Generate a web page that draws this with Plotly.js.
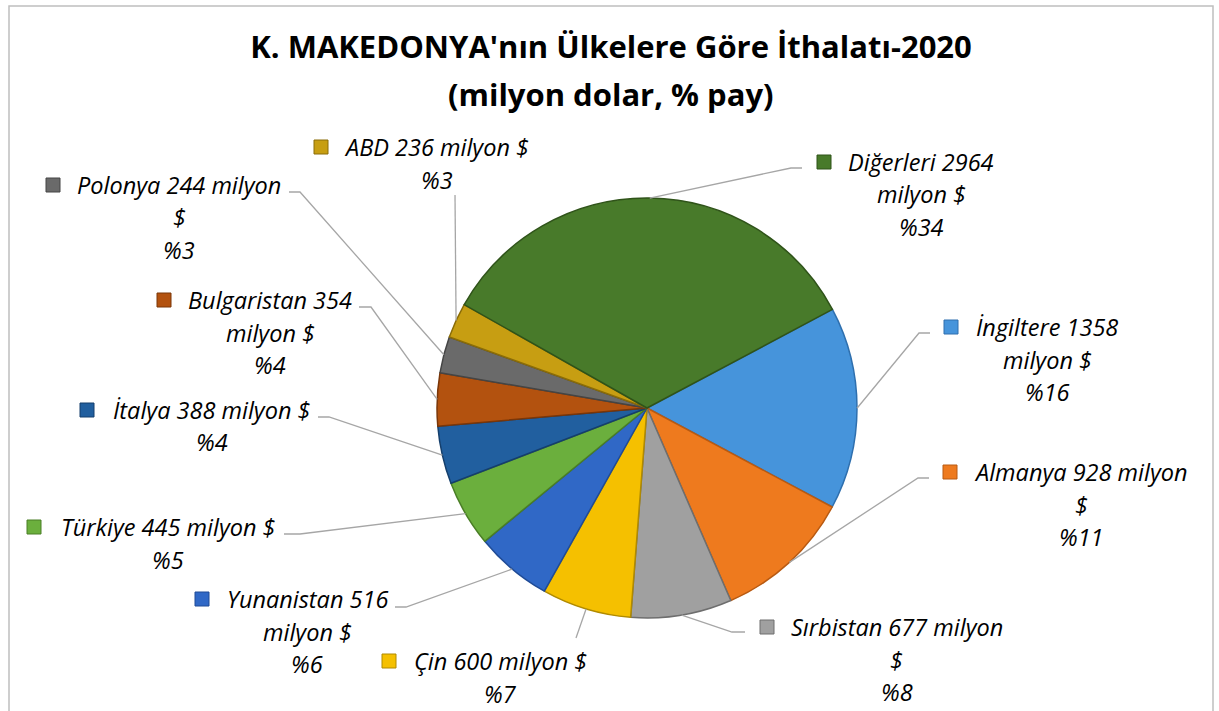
<!DOCTYPE html>
<html><head><meta charset="utf-8">
<script src="https://cdn.plot.ly/plotly-3.0.1.min.js"></script>
<style>html,body{margin:0;padding:0;background:#fff;}#chart{width:1219px;height:711px;}</style>
</head><body><div id="chart"></div>
<script>
// ---- data ----
const countries = ["İngiltere","Almanya","Sırbistan","Çin","Yunanistan","Türkiye","İtalya","Bulgaristan","Polonya","ABD","Diğerleri"];
const values = [1358, 928, 677, 600, 516, 445, 388, 354, 244, 236, 2964];
const unitText = "milyon $";
const titleLines = ["K. MAKEDONYA'nın Ülkelere Göre İthalatı-2020", "(milyon dolar, % pay)"];

// ---- styles ----
const colors = ["#4694DB","#EE7A1E","#A0A0A0","#F5C000","#3068C6","#6BAF3D","#215F9F","#B3520F","#6A6A6A","#C79E12","#487A2A"];
const edgeColors = ["#2E6FAE","#B85A12","#6E6E6E","#B08A00","#1F4B96","#4A7E26","#153F6C","#7A3608","#454545","#8A6C08","#2F5319"];

const W = 1219, H = 711;
const CX = 647, CY = 408, R = 210, ROT = 62;
const LS = 32.5;
const labelLayout = [
  {cx:1047, y:327, w1:2, sq:951, lead:[[930,333],[919,333]]},
  {cx:1081, y:472, w1:3, sq:950, lead:[[929,478],[918,478]]},
  {cx:897,  y:627, w1:3, sq:767, lead:[[745,632],[732,632]]},
  {cx:500,  y:661, w1:4, sq:389, lead:[[576,638]]},
  {cx:307,  y:599, w1:2, sq:202, lead:[[395,607],[406,607]]},
  {cx:168,  y:527, w1:4, sq:34,  lead:[[284,534],[300,534]]},
  {cx:212,  y:410, w1:4, sq:87,  lead:[[318,417],[329,417]]},
  {cx:270,  y:300, w1:2, sq:164, lead:[[359,307],[371,307]]},
  {cx:179,  y:185, w1:3, sq:53,  lead:[[289,192],[300,192]]},
  {cx:437,  y:147, w1:4, sq:321, lead:[[455,195]]},
  {cx:921,  y:162, w1:2, sq:824, lead:[[802,168],[791,168]]}
];

const FONT = "'Open Sans', sans-serif";
const px = x => x / W;
const py = y => 1 - y / H;

const total = values.reduce((a,b)=>a+b,0);
const annotations = [];
const shapes = [];

let cum = 0;
values.forEach((v,i)=>{
  const mid = (cum + v/2) / total;
  cum += v;
  const ang = (ROT + 360*mid) * Math.PI/180;
  const tx = CX + R*Math.sin(ang), ty = CY - R*Math.cos(ang);
  const L = labelLayout[i];
  const pct = Math.round(v/total*100);
  const words = (countries[i] + " " + v + " " + unitText).split(" ");
  const lines = [words.slice(0,L.w1).join(" ")];
  if (words.length > L.w1) lines.push(words.slice(L.w1).join(" "));
  lines.push("%" + pct);
  lines.forEach((t,k)=>{
    annotations.push({
      x: px(L.cx), y: py(L.y + k*LS), xref:"paper", yref:"paper",
      xanchor:"center", yanchor:"middle", showarrow:false,
      text: "<i>" + t + "</i>",
      font:{family:FONT, size:23.5, color:"#000"}
    });
  });
  // legend key square
  shapes.push({type:"rect", xref:"paper", yref:"paper",
    x0:px(L.sq-7), x1:px(L.sq+7), y0:py(L.y+7), y1:py(L.y-7),
    fillcolor: colors[i], line:{color: edgeColors[i], width:1}});
  // leader line
  let path = "M " + L.lead.map(p=>px(p[0])+","+py(p[1])).join(" L ") + " L " + px(tx)+","+py(ty);
  shapes.push({type:"path", xref:"paper", yref:"paper", path:path,
    line:{color:"#A6A6A6", width:1.3}});
});

// second title line
annotations.push({x:px(611), y:py(94), xref:"paper", yref:"paper", xanchor:"center", yanchor:"middle",
  showarrow:false, text:"<b>"+titleLines[1]+"</b>", font:{family:FONT, size:31, color:"#000"}});

// chart border
shapes.push({type:"rect", xref:"paper", yref:"paper",
  x0:px(9), x1:px(1213), y0:py(730), y1:py(6),
  line:{color:"#BFBFBF", width:1.5}, fillcolor:"rgba(0,0,0,0)", layer:"below"});

const trace = {
  type:"pie",
  labels: countries,
  values: values,
  sort:false,
  direction:"clockwise",
  rotation: ROT,
  textinfo:"none",
  hoverinfo:"label+value+percent",
  marker:{colors: colors, line:{color: edgeColors, width:1.5}},
  domain:{x:[px(CX-R), px(CX+R)], y:[py(CY+R), py(CY-R)]},
  showlegend:false
};

const layout = {
  width:W, height:H,
  margin:{l:0,r:0,t:0,b:0},
  paper_bgcolor:"#fff",
  title:{text: titleLines[0], x:px(611), xanchor:"center", y:py(47), yanchor:"middle",
    font:{family:FONT, size:31, color:"#000", weight:"bold"}},
  annotations: annotations,
  shapes: shapes,
  showlegend:false
};

Plotly.newPlot("chart", [trace], layout, {displayModeBar:false, staticPlot:true});
</script>
</body></html>
